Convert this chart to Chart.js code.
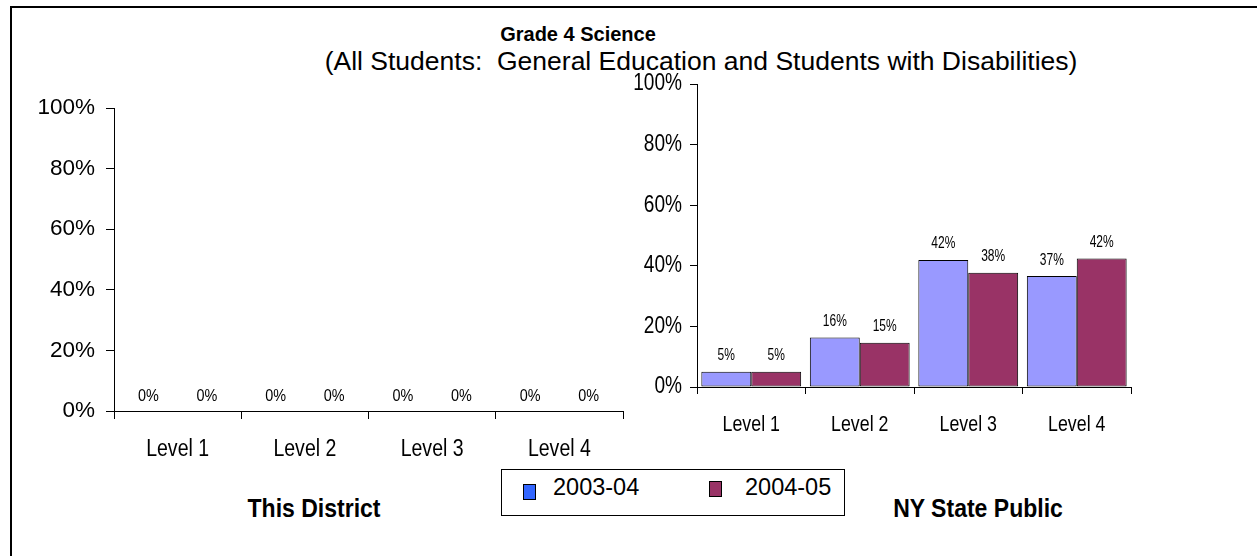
<!DOCTYPE html>
<html>
<head>
<meta charset="utf-8">
<script src="https://cdn.jsdelivr.net/npm/chart.js@4.4.0/dist/chart.umd.min.js"></script>
<style>
html,body{margin:0;padding:0;background:#fff;}
body{width:1257px;height:556px;overflow:hidden;position:relative;font-family:"Liberation Sans",Arial,sans-serif;color:#000;}
.abs{position:absolute;white-space:nowrap;line-height:1;}
#frame{position:absolute;left:10px;top:6px;width:1300px;height:600px;border-left:2px solid #000;border-top:2px solid #000;}
#title{top:24px;left:578px;transform:translateX(-50%);font-size:20px;font-weight:bold;}
#subtitle{top:48px;left:701px;transform:translateX(-50%);font-size:26.5px;}
.panelLabel{top:495px;transform:translateX(-50%) scaleX(0.885);font-size:26px;font-weight:bold;}
#legend{position:absolute;left:501px;top:469px;width:342px;height:45px;border:1px solid #000;background:#fff;}
.sw{position:absolute;width:11px;height:14px;border:1px solid #000;}
.lt{position:absolute;font-size:23.5px;line-height:1;white-space:nowrap;}
canvas{position:absolute;}
</style>
</head>
<body>
<div id="frame"></div>
<div id="title" class="abs">Grade 4 Science</div>
<div id="subtitle" class="abs">(All Students:&nbsp; General Education and Students with Disabilities)</div>

<canvas id="leftChart" width="610" height="393" style="left:20px;top:78px;"></canvas>
<canvas id="rightChart" width="520" height="393" style="left:625px;top:54px;"></canvas>

<div class="abs panelLabel" style="left:314px;">This District</div>
<div class="abs panelLabel" style="left:978px;">NY State Public</div>

<div id="legend">
  <div class="sw" id="sw0" style="left:21px;top:14px;"></div>
  <div class="lt" id="lt0" style="left:51px;top:6px;"></div>
  <div class="sw" id="sw1" style="left:207px;top:11px;"></div>
  <div class="lt" id="lt1" style="left:243px;top:6px;"></div>
</div>

<script>
// ---- data ----
const categories = ['Level 1', 'Level 2', 'Level 3', 'Level 4'];
const seriesNames = ['2003-04', '2004-05'];
const district2003 = [0, 0, 0, 0];
const district2004 = [0, 0, 0, 0];
const state2003 = [5, 16.3, 41.9, 36.6];
const state2004 = [5, 14.6, 37.7, 42.4];
const yTickValues = [0, 20, 40, 60, 80, 100];

const barColors = ['#9999FF', '#993366'];
const legendColors = ['#3366FF', '#993366'];

document.getElementById('lt0').textContent = seriesNames[0];
document.getElementById('lt1').textContent = seriesNames[1];
document.getElementById('sw0').style.background = legendColors[0];
document.getElementById('sw1').style.background = legendColors[1];

// Tick labels drawn by the scale itself, horizontally condensed like the original
function condensedDrawLabels(chartArea) {
  const sx = this.options.ticks.condense || 1;
  const ctx = this.ctx;
  const items = this.getLabelItems(chartArea);
  for (const item of items) {
    const o = item.options;
    ctx.save();
    ctx.translate(o.translation[0], o.translation[1]);
    if (o.rotation) ctx.rotate(o.rotation);
    ctx.scale(sx, 1);
    ctx.font = item.font.string;
    ctx.fillStyle = o.color;
    ctx.textAlign = o.textAlign;
    ctx.textBaseline = o.textBaseline;
    const lines = Array.isArray(item.label) ? item.label : [item.label];
    let y = item.textOffset;
    for (const line of lines) { ctx.fillText(String(line), 0, y); y += item.font.lineHeight; }
    ctx.restore();
  }
}
class CondensedCategoryScale extends Chart.CategoryScale {
  drawLabels(a) { condensedDrawLabels.call(this, a); }
}
CondensedCategoryScale.id = 'condensedCategory';
CondensedCategoryScale.defaults = Chart.CategoryScale.defaults;
class CondensedLinearScale extends Chart.LinearScale {
  drawLabels(a) { condensedDrawLabels.call(this, a); }
}
CondensedLinearScale.id = 'condensedLinear';
CondensedLinearScale.defaults = Chart.LinearScale.defaults;
Chart.register(CondensedCategoryScale, CondensedLinearScale);

const valueLabels = {
  id: 'valueLabels',
  afterDatasetsDraw(chart, args, opts) {
    const ctx = chart.ctx;
    chart.data.datasets.forEach((ds, i) => {
      chart.getDatasetMeta(i).data.forEach((el, j) => {
        ctx.save();
        ctx.translate(el.x, el.y - opts.offset);
        ctx.scale(opts.condense, 1);
        ctx.font = opts.font;
        ctx.fillStyle = '#000';
        ctx.textAlign = 'center';
        ctx.textBaseline = 'middle';
        ctx.fillText(Math.round(ds.data[j]) + '%', 0, 0);
        ctx.restore();
      });
    });
  }
};

const FAMILY = '"Liberation Sans", Arial, sans-serif';

function makeChart(id, a, b, f) {
  return new Chart(document.getElementById(id), {
    type: 'bar',
    data: {
      labels: categories,
      datasets: [
        { label: seriesNames[0], data: a, backgroundColor: barColors[0], borderColor: '#000', borderWidth: 1, borderSkipped: false, categoryPercentage: 0.92, barPercentage: 1 },
        { label: seriesNames[1], data: b, backgroundColor: barColors[1], borderColor: '#000', borderWidth: 1, borderSkipped: false, categoryPercentage: 0.92, barPercentage: 1 }
      ]
    },
    options: {
      responsive: false,
      animation: false,
      layout: { padding: { top: f.padTop, right: f.padRight, bottom: 0, left: 0 } },
      plugins: {
        legend: { display: false },
        title: { display: false },
        tooltip: { enabled: false },
        valueLabels: { font: f.labelFont, offset: f.labelOffset, condense: f.labelCondense }
      },
      scales: {
        x: {
          type: 'condensedCategory',
          offset: true,
          grid: { display: true, offset: true, drawOnChartArea: false, drawTicks: true, tickLength: f.xTick, color: '#000', lineWidth: 1 },
          border: { display: true, color: '#000', width: 1 },
          ticks: { color: '#000', font: { family: FAMILY, size: f.xSize }, padding: f.xPad, maxRotation: 0, autoSkip: false, condense: f.xCondense },
          afterFit(s) { s.height = 60; }
        },
        y: {
          type: 'condensedLinear',
          min: 0, max: 100,
          afterBuildTicks(s) { s.ticks = yTickValues.map(v => ({ value: v })); },
          grid: { display: true, drawOnChartArea: false, drawTicks: true, tickLength: f.yTick, color: '#000', lineWidth: 1 },
          border: { display: true, color: '#000', width: 1 },
          ticks: { color: '#000', font: { family: FAMILY, size: f.ySize }, padding: f.yPad, condense: f.yCondense, callback: v => v + '%' },
          afterFit(s) { s.width = f.yW; }
        }
      }
    },
    plugins: [valueLabels]
  });
}

makeChart('leftChart', district2003, district2004, {
  padTop: 30, padRight: 7, yW: 94, xTick: 8, yTick: 8, yPad: 11, xPad: 16,
  xSize: 23.5, xCondense: 0.83, ySize: 22.5, yCondense: 1,
  labelFont: '16px ' + FAMILY, labelOffset: 14, labelCondense: 0.9
});

makeChart('rightChart', state2003, state2004, {
  padTop: 30, padRight: 14, yW: 72, xTick: 7, yTick: 7, yPad: 8, xPad: 17,
  xSize: 22.5, xCondense: 0.79, ySize: 23, yCondense: 0.83,
  labelFont: '16px ' + FAMILY, labelOffset: 16, labelCondense: 0.75
});
</script>
</body>
</html>
